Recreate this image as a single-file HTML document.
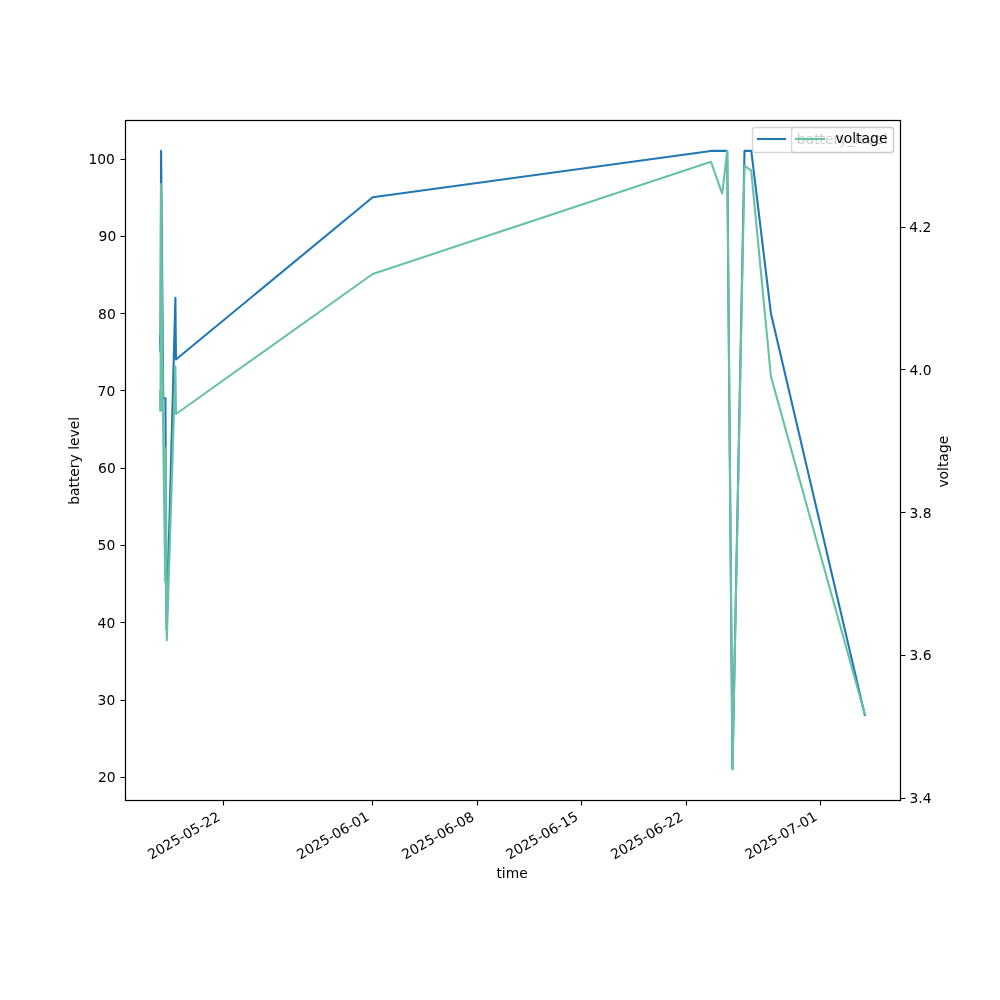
<!DOCTYPE html>
<html lang="en">
<head>
<meta charset="utf-8">
<title>battery level and voltage over time</title>
<style>
html,body{margin:0;padding:0;background:#ffffff;}
body{width:1000px;height:1000px;overflow:hidden;}
svg text{white-space:pre;}
</style>
</head>
<body>
<svg width="1000" height="1000" viewBox="0 0 1000 1000" style="display:block">
<rect x="0" y="0" width="1000" height="1000" fill="#ffffff"/>
<g style="font-family:'DejaVu Sans','Liberation Sans',sans-serif;font-size:13.889px" fill="#000000">
<g stroke="#000000" stroke-width="1.111" fill="none">
<path d="M223.5 800.5 v5 M372.5 800.5 v5 M477.5 800.5 v5 M581.5 800.5 v5 M686.5 800.5 v5 M820.5 800.5 v5 M125.5 777.5 h-5 M125.5 700.5 h-5 M125.5 622.5 h-5 M125.5 545.5 h-5 M125.5 468.5 h-5 M125.5 390.5 h-5 M125.5 313.5 h-5 M125.5 236.5 h-5 M125.5 159.5 h-5"/>
</g>
<text transform="translate(151.254 859.82) rotate(-30)" text-anchor="start">2025-05-22</text>
<text transform="translate(300.354 859.77) rotate(-30)" text-anchor="start">2025-06-01</text>
<text transform="translate(405.289 859.82) rotate(-30)" text-anchor="start">2025-06-08</text>
<text transform="translate(509.414 859.72) rotate(-30)" text-anchor="start">2025-06-15</text>
<text transform="translate(614.269 859.82) rotate(-30)" text-anchor="start">2025-06-22</text>
<text transform="translate(748.424 859.77) rotate(-30)" text-anchor="start">2025-07-01</text>
<text x="115.678" y="782.095" text-anchor="end">20</text>
<text x="115.278" y="704.822" text-anchor="end">30</text>
<text x="115.278" y="627.549" text-anchor="end">40</text>
<text x="115.278" y="550.277" text-anchor="end">50</text>
<text x="115.778" y="473.004" text-anchor="end">60</text>
<text x="115.278" y="395.731" text-anchor="end">70</text>
<text x="115.778" y="318.959" text-anchor="end">80</text>
<text x="116.278" y="241.186" text-anchor="end">90</text>
<text x="114.878" y="163.913" text-anchor="end">100</text>
<text x="512.1" y="877.83" text-anchor="middle">time</text>
<text transform="translate(79.323 460.85) rotate(-90)" text-anchor="middle">battery level</text>
</g>
<clipPath id="axclip"><rect x="125" y="120" width="775" height="680"/></clipPath>
<g clip-path="url(#axclip)"><path d="M160.03 336.364 L160.4 351.818 L161.1 150.909 L163.25 398.182 L165.4 398.182 L166.55 630 L175.4 297.727 L175.95 359.545 L372.7 197.273 L710.9 150.909 L722.2 150.909 L727.2 150.909 L732.5 769.091 L744.5 150.909 L751.3 150.909 L770.9 313.182 L864.8 715" fill="none" stroke="#1f77b4" stroke-width="2.083" stroke-linecap="square" stroke-linejoin="round"/></g>
<rect x="125.5" y="120.5" width="775" height="680" fill="none" stroke="#000000" stroke-width="1.111"/>
<path d="M755.278 152.5 L890.722 152.5 Q893.5 152.5 893.5 149.722 L893.5 130.278 Q893.5 127.5 890.722 127.5 L755.278 127.5 Q752.5 127.5 752.5 130.278 L752.5 149.722 Q752.5 152.5 755.278 152.5 Z" fill="#ffffff" stroke="#cccccc" stroke-width="1.389" stroke-linejoin="miter" opacity="0.8"/><path d="M758 139 H785" fill="none" stroke="#1f77b4" stroke-width="2.083" stroke-linecap="square"/><g style="font-family:'DejaVu Sans','Liberation Sans',sans-serif;font-size:13.889px" fill="#000000"><text x="796.832" y="143.553" text-anchor="start">battery_level</text></g>
<g style="font-family:'DejaVu Sans','Liberation Sans',sans-serif;font-size:13.889px" fill="#000000">
<path d="M900.5 798.5 h5 M900.5 655.5 h5 M900.5 512.5 h5 M900.5 369.5 h5 M900.5 227.5 h5" stroke="#000000" stroke-width="1.111" fill="none"/>
<text x="909.522" y="802.921" text-anchor="start">3.4</text>
<text x="909.422" y="660.154" text-anchor="start">3.6</text>
<text x="909.522" y="517.887" text-anchor="start">3.8</text>
<text x="909.422" y="374.62" text-anchor="start">4.0</text>
<text x="909.322" y="231.852" text-anchor="start">4.2</text>
<text transform="translate(947.919 461.7) rotate(-90)" text-anchor="middle">voltage</text>
</g>
<g clip-path="url(#axclip)"><path d="M160.23 391.5 L160.5 411 L161.1 184 L162.9 411 L165.2 582 L165.7 448 L166.8 640.2 L175.4 366.6 L176 414 L372.7 274 L711 161.8 L722.2 193.6 L727.2 150.91 L732.5 769.09 L744.5 165.8 L751.2 170.3 L770.9 376.4 L864.8 714.3 M159.98 392.2 L160.2 410.3 M161.35 392.5 L161.55 410.3" fill="none" stroke="#66c2a5" stroke-width="2.083" stroke-linecap="square" stroke-linejoin="round"/></g>
<rect x="125.5" y="120.5" width="775" height="680" fill="none" stroke="#000000" stroke-width="1.111"/>
<path d="M794.278 152.5 L890.722 152.5 Q893.5 152.5 893.5 149.722 L893.5 130.278 Q893.5 127.5 890.722 127.5 L794.278 127.5 Q791.5 127.5 791.5 130.278 L791.5 149.722 Q791.5 152.5 794.278 152.5 Z" fill="#ffffff" stroke="#cccccc" stroke-width="1.389" stroke-linejoin="miter" opacity="0.8"/><path d="M796 139 H824" fill="none" stroke="#66c2a5" stroke-width="2.083" stroke-linecap="square"/><g style="font-family:'DejaVu Sans','Liberation Sans',sans-serif;font-size:13.889px" fill="#000000"><text x="835.603" y="143.053" text-anchor="start">voltage</text></g>
</svg>
</body>
</html>
